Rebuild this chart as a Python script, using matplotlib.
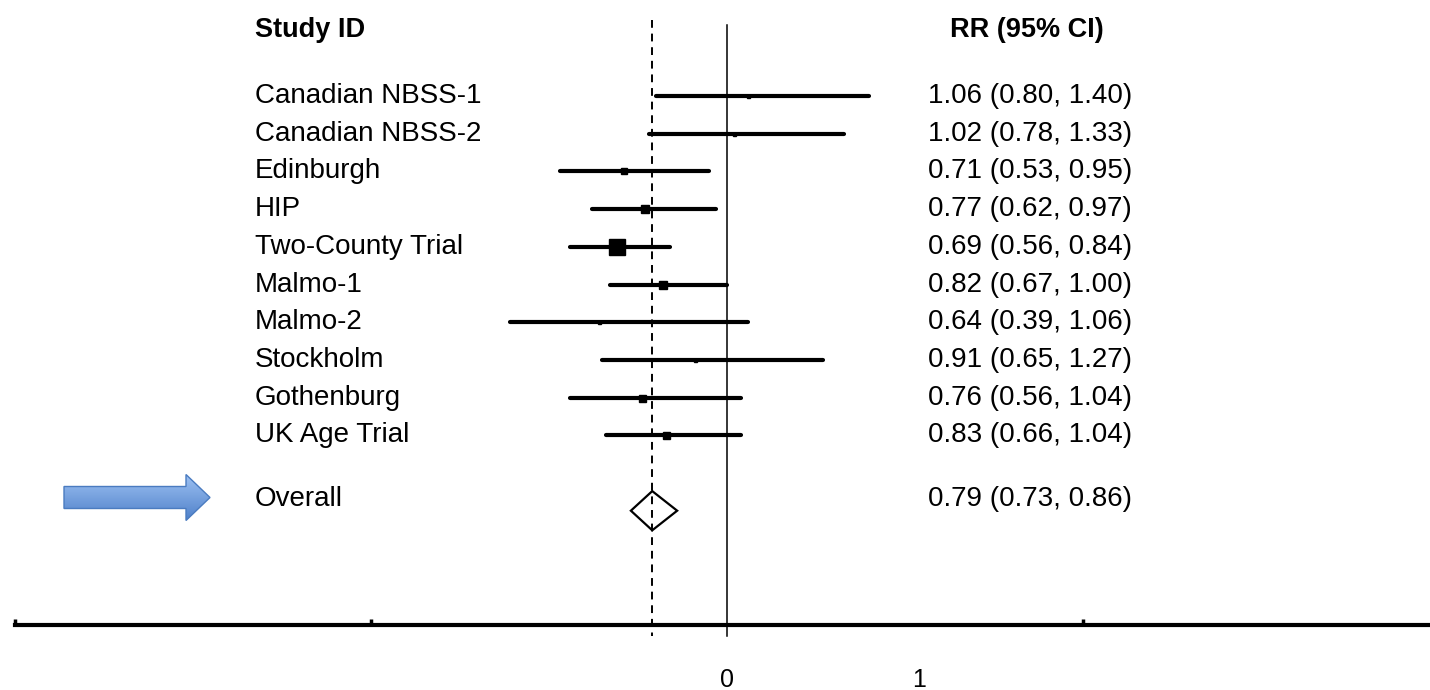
import matplotlib
matplotlib.use("Agg")
import matplotlib.pyplot as plt
import matplotlib.patches as mpatches
from matplotlib.colors import LinearSegmentedColormap
import numpy as np

# Study data (RR with 95% CI)
studies = ['Canadian NBSS-1', 'Canadian NBSS-2', 'Edinburgh', 'HIP', 'Two-County Trial',
           'Malmo-1', 'Malmo-2', 'Stockholm', 'Gothenburg', 'UK Age Trial']
rr = [1.06, 1.02, 0.71, 0.77, 0.69, 0.82, 0.64, 0.91, 0.76, 0.83]
ci_low = [0.80, 0.78, 0.53, 0.62, 0.56, 0.67, 0.39, 0.65, 0.56, 0.66]
ci_high = [1.40, 1.33, 0.95, 0.97, 0.84, 1.00, 1.06, 1.27, 1.04, 1.04]
overall_rr, overall_low, overall_high = 0.79, 0.73, 0.86
axis_ticks = [-1, 0, 2]
axis_labels = ['0', '1']
axis_label_pos = [1.0, 1.54]

# box side length in pixels (study weight)
box_px = [3, 3, 6, 8, 16, 8, 3, 3, 7, 7]

plt.rcParams['font.family'] = ['Liberation Sans', 'DejaVu Sans']

fig = plt.figure(figsize=(14.3, 6.9), dpi=100)
ax = fig.add_axes([15 / 1430, 65 / 690, 1 - 15 / 1430, 625 / 690])

ppu = 356.0      # pixels per RR unit
row_h = 37.7     # pixels per row


def px_x(p):
    return 1 + (p - 727) / ppu


def px_y(p):
    return (p - 96) / row_h


rows = np.arange(len(studies))
overall_row = len(studies) + 1

# reference lines
ax.plot([1, 1], [px_y(25), px_y(636)], color='black', lw=1.1, clip_on=False, zorder=1)
ax.plot([overall_rr, overall_rr], [px_y(20), px_y(636)], color='black', lw=1.4,
        ls=(0, (4, 3)), clip_on=False, zorder=1)

# CIs and boxes
for i in rows:
    ax.plot([ci_low[i], ci_high[i]], [i, i], color='black', lw=3, solid_capstyle='round', zorder=2)
    ax.plot(rr[i], i, marker='s', color='black', markersize=box_px[i] * 0.72, zorder=3)

# overall diamond
h = 0.52
diamond = mpatches.Polygon([(overall_low, overall_row), (overall_rr, overall_row - h),
                            (overall_high, overall_row), (overall_rr, overall_row + h)],
                           closed=True, fill=False, edgecolor='black', lw=1.6, zorder=3)
ax.add_patch(diamond)

# labels
for i in rows:
    ax.text(px_x(255), i, studies[i], fontsize=20, va='center', ha='left')
    ax.text(px_x(928), i, f'{rr[i]:.2f} ({ci_low[i]:.2f}, {ci_high[i]:.2f})',
            fontsize=20, va='center', ha='left')
ax.text(px_x(255), overall_row - 0.3, 'Overall', fontsize=20, va='center', ha='left')
ax.text(px_x(928), overall_row - 0.3,
        f'{overall_rr:.2f} ({overall_low:.2f}, {overall_high:.2f})',
        fontsize=20, va='center', ha='left')
ax.text(px_x(255), px_y(30), 'Study ID', fontsize=19.5, fontweight='bold', va='center', ha='left')
ax.text(px_x(950), px_y(30), 'RR (95% CI)', fontsize=19.5, fontweight='bold', va='center', ha='left')

# arrow pointing at Overall, with gradient fill
yc = 497.5
arrow_pts = [(64, yc - 11), (186, yc - 11), (186, yc - 23), (210, yc), (186, yc + 23),
             (186, yc + 11), (64, yc + 11)]
arrow_xy = [(px_x(a), px_y(b)) for a, b in arrow_pts]
arrow = mpatches.Polygon(arrow_xy, closed=True, facecolor='none', edgecolor='#4a7bc0',
                         lw=1.0, zorder=4)
ax.add_patch(arrow)
grad_cmap = LinearSegmentedColormap.from_list('arrow', ['#9cc0f2', '#4e80c9'])
grad = np.linspace(0, 1, 64).reshape(-1, 1)
img = ax.imshow(grad, cmap=grad_cmap, aspect='auto', zorder=3,
                extent=(px_x(64), px_x(210), px_y(yc + 23), px_y(yc - 23)), origin='upper')
img.set_clip_path(arrow)

# axis
ax.set_xlim(-1, px_x(1430))
ax.set_ylim(px_y(625), px_y(0))
for s in ['top', 'left', 'right']:
    ax.spines[s].set_visible(False)
ax.spines['bottom'].set_linewidth(3)
ax.set_yticks([])
ax.set_xticks(axis_ticks)
ax.set_xticklabels([])
ax.tick_params(axis='x', direction='in', length=4, width=2.5)
for lab, pos in zip(axis_labels, axis_label_pos):
    ax.text(pos, px_y(680), lab, fontsize=18, ha='center', va='center', clip_on=False)

fig.savefig('out.png', dpi=100)
